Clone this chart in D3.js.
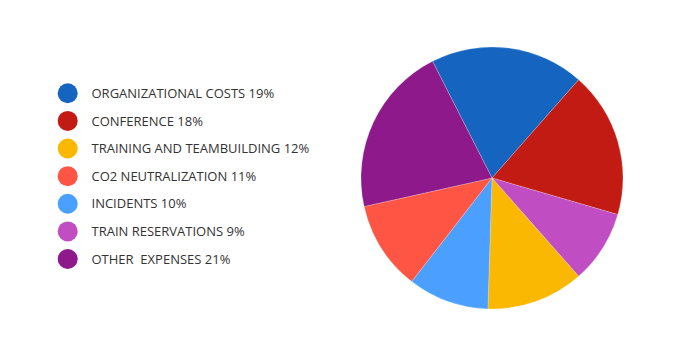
<!DOCTYPE html>
<html><head><meta charset="utf-8">
<script src="https://cdn.jsdelivr.net/npm/d3@7"></script>
<style>html,body{margin:0;padding:0;background:#fff;}</style>
</head><body>
<svg id="chart" width="685" height="355"></svg>
<script>
// Legend order
const legendLabels = ["ORGANIZATIONAL COSTS 19%","CONFERENCE 18%","TRAINING AND TEAMBUILDING 12%","CO2 NEUTRALIZATION 11%","INCIDENTS 10%","TRAIN RESERVATIONS 9%","OTHER  EXPENSES 21%"];
const legendKeys = ["org","conf","train","co2","inc","rail","other"];
// Pie order (clockwise)
const pieKeys = ["org","conf","rail","train","inc","co2","other"];
const pieValues = [19,18,9,12,10,11,21];
const colorKeys = ["org","conf","train","co2","inc","rail","other"];
const colorValues = ["#1565C0","#C21B13","#FBB802","#FF5544","#4BA0FF","#C04DC2","#8D198A"];

const svg = d3.select("#chart");
const color = d3.scaleOrdinal().domain(colorKeys).range(colorValues);

const pieData = pieKeys.map((k,i)=>({key:k,value:pieValues[i]}));
const startA = -27*Math.PI/180;
const pie = d3.pie().value(d=>d.value).sort(null).startAngle(startA).endAngle(startA+2*Math.PI);
const arc = d3.arc().innerRadius(0).outerRadius(131);

const g = svg.append("g").attr("transform","translate(492,178)");
g.selectAll("path").data(pie(pieData)).join("path")
  .attr("d",arc)
  .attr("fill",d=>color(d.data.key))
  .attr("stroke","rgba(255,255,255,0.35)")
  .attr("stroke-width",0.6);

const y = d3.scalePoint().domain(legendKeys).range([93.3,259]);
const lg = svg.append("g");
const item = lg.selectAll("g").data(legendKeys).join("g")
  .attr("transform",d=>`translate(0,${y(d)})`);
item.append("circle").attr("cx",67.7).attr("cy",0).attr("r",10).attr("fill",d=>color(d));
item.append("text").attr("x",91.5).attr("y",0).attr("dy","0.36em")
  .attr("font-family","'Open Sans', sans-serif").attr("font-size",13)
  .attr("fill","#333").attr("xml:space","preserve").style("white-space","pre")
  .text((d,i)=>legendLabels[i]);
</script>
</body></html>
